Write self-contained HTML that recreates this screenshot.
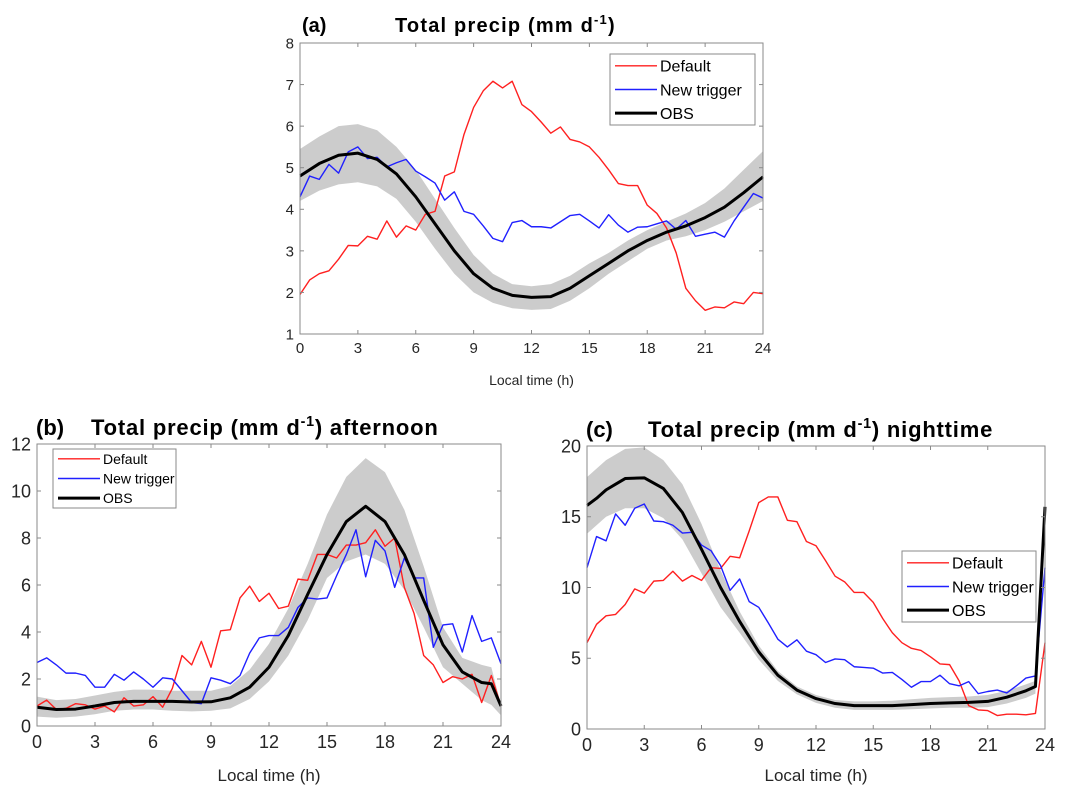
<!DOCTYPE html>
<html><head><meta charset="utf-8"><style>
body{margin:0;background:#fff;width:1074px;height:800px;overflow:hidden}
svg{font-family:"Liberation Sans",Arial,sans-serif}
</style></head><body>
<svg id="chart" width="1074" height="800" viewBox="0 0 1074 800"></svg>
<script>
const hh = [];
for (let i = 0; i <= 48; i++) hh.push(i / 2);
// Panel a
const aDefault = [1.95,2.3,2.45,2.52,2.8,3.13,3.12,3.35,3.28,3.72,3.33,3.6,3.5,3.88,3.95,4.8,4.9,5.8,6.45,6.85,7.08,6.92,7.08,6.52,6.35,6.1,5.83,5.98,5.68,5.62,5.5,5.25,4.95,4.62,4.57,4.57,4.1,3.9,3.55,2.95,2.1,1.8,1.57,1.65,1.63,1.77,1.73,2.0,1.97];
const aNew = [4.3,4.8,4.72,5.08,4.87,5.38,5.5,5.22,5.25,5.02,5.12,5.2,4.92,4.78,4.63,4.22,4.42,3.95,3.88,3.6,3.3,3.22,3.68,3.73,3.58,3.58,3.55,3.7,3.85,3.88,3.72,3.55,3.87,3.62,3.45,3.57,3.58,3.65,3.72,3.52,3.73,3.35,3.4,3.45,3.33,3.72,4.05,4.38,4.27];
const aObsX = [0,1,2,3,4,5,6,7,8,9,10,11,12,13,14,15,16,17,18,19,20,21,22,23,24];
const aObs = [4.8,5.1,5.3,5.35,5.2,4.85,4.3,3.65,3.0,2.45,2.1,1.93,1.88,1.9,2.1,2.4,2.7,3.0,3.25,3.45,3.6,3.8,4.05,4.4,4.78];
const aUp = [5.45,5.75,6.0,6.05,5.9,5.5,4.95,4.25,3.55,2.9,2.45,2.2,2.15,2.2,2.4,2.7,2.95,3.25,3.5,3.7,3.9,4.15,4.5,4.95,5.4];
const aLo = [4.2,4.45,4.6,4.65,4.55,4.25,3.7,3.05,2.45,2.0,1.75,1.62,1.58,1.6,1.8,2.1,2.45,2.75,3.05,3.25,3.35,3.5,3.7,3.95,4.2];
const aYTicks = [1,2,3,4,5,6,7,8];
// Panel b
const bDefault = [0.85,1.1,0.7,0.75,0.95,0.9,0.72,0.85,0.6,1.2,0.85,0.9,1.25,0.8,1.6,3.0,2.6,3.6,2.5,4.05,4.1,5.45,5.95,5.3,5.65,5.0,5.1,6.25,6.2,7.3,7.3,7.15,7.7,7.7,7.8,8.35,7.65,8.0,5.9,4.8,3.0,2.6,1.85,2.1,2.0,2.2,1.0,2.15,0.85];
const bNew = [2.7,2.9,2.6,2.25,2.25,2.15,1.65,1.65,2.2,1.95,2.3,2.0,1.65,2.05,2.0,1.5,1.0,0.95,2.05,1.95,1.8,2.15,3.1,3.75,3.85,3.85,4.2,5.05,5.45,5.4,5.45,6.4,7.3,8.35,6.35,7.9,7.45,5.9,7.15,6.3,6.3,3.35,4.3,4.35,3.15,4.7,3.6,3.75,2.65];
const bObsX = [0,1,2,3,4,5,6,7,8,9,10,11,12,13,14,15,16,17,18,19,20,21,22,23,23.5,24];
const bObs = [0.8,0.7,0.72,0.85,1.0,1.05,1.05,1.05,1.02,1.03,1.2,1.65,2.5,3.85,5.6,7.3,8.7,9.35,8.7,7.3,5.35,3.45,2.3,1.85,1.8,0.85];
const bUp = [1.25,1.1,1.15,1.3,1.45,1.55,1.55,1.5,1.5,1.5,1.7,2.4,3.5,5.0,6.9,9.0,10.6,11.4,10.8,9.2,6.8,4.2,2.9,2.6,2.5,0.9];
const bLo = [0.4,0.35,0.4,0.5,0.65,0.7,0.7,0.65,0.62,0.65,0.75,1.15,1.9,3.0,4.5,6.3,7.0,7.3,6.9,5.8,4.2,2.5,1.8,1.1,0.9,0.45];
const bYTicks = [0,2,4,6,8,10,12];
// Panel c
const cDefault = [6.1,7.4,8.0,8.1,8.8,9.9,9.6,10.45,10.5,11.15,10.45,10.85,10.5,11.4,11.35,12.2,12.1,14.0,16.0,16.4,16.4,14.75,14.65,13.25,12.95,11.9,10.8,10.4,9.65,9.65,8.95,7.8,6.8,6.1,5.7,5.55,5.1,4.6,4.55,3.4,1.65,1.35,1.3,0.95,1.05,1.05,1.0,1.1,6.1];
const cNew = [11.4,13.6,13.3,15.2,14.4,15.6,15.9,14.7,14.65,14.4,13.85,13.9,13.0,12.6,11.55,9.8,10.6,9.0,8.6,7.5,6.35,5.8,6.3,5.5,5.25,4.7,4.95,4.9,4.4,4.35,4.3,3.95,4.0,3.5,2.95,3.35,3.35,3.8,3.2,3.05,3.35,2.5,2.65,2.75,2.55,3.05,3.6,3.75,11.4];
const cObsX = [0,0.5,1,1.5,2,3,4,5,6,7,8,9,10,11,12,13,14,15,16,17,18,19,20,21,22,23,23.5,24];
const cObs = [15.8,16.3,16.9,17.3,17.7,17.75,17.0,15.3,12.7,10.0,7.6,5.45,3.8,2.75,2.15,1.8,1.65,1.65,1.65,1.72,1.8,1.85,1.88,1.95,2.25,2.7,3.0,15.7];
const cBandX = [0,1,2,3,4,5,6,7,8,9,10,11,12,13,14,15,16,17,18,19,20,21,22,23,23.5];
const cUp = [17.8,19.0,19.8,19.9,19.0,17.3,14.5,11.2,8.3,5.9,4.1,3.0,2.4,2.05,1.95,1.95,2.0,2.1,2.2,2.25,2.3,2.4,2.7,3.15,3.4];
const cLo = [13.8,15.0,15.6,15.6,14.9,13.4,11.0,8.6,6.8,4.9,3.4,2.45,1.85,1.5,1.35,1.35,1.35,1.4,1.45,1.5,1.5,1.55,1.8,2.2,2.5];
const cYTicks = [0,5,10,15,20];
const xTicks = [0,3,6,9,12,15,18,21,24];
const legendLabels = ["Default","New trigger","OBS"];

const NS = "http://www.w3.org/2000/svg";
const svg = document.getElementById("chart");
function mk(tag, attrs, parent, text) {
  const e = document.createElementNS(NS, tag);
  for (const k in attrs) e.setAttribute(k, attrs[k]);
  if (text !== undefined) e.textContent = text;
  (parent || svg).appendChild(e);
  return e;
}

function panel(p) {
  const g = mk("g", {});
  
  
  const sx = v => p.x0 + (v - 0) / 24 * (p.x1 - p.x0);
  const sy = v => p.y1 - (v - p.ymin) / (p.ymax - p.ymin) * (p.y1 - p.y0);
  let d = "";
  p.bandX.forEach((x, i) => { d += (i ? "L" : "M") + sx(x) + "," + sy(p.up[i]); });
  for (let i = p.bandX.length - 1; i >= 0; i--) d += "L" + sx(p.bandX[i]) + "," + sy(p.lo[i]);
  const band = mk("path", {d: d + "Z", fill: "#cccccc", stroke: "none"}, g);
  
  
  const line = (xs, ys, col, w, name) => {
    const pts = xs.map((x, i) => sx(x) + "," + sy(ys[i])).join(" ");
    const l = mk("polyline", {points: pts, fill: "none", stroke: col, "stroke-width": w, "stroke-linejoin": "round"}, g);
    
    
  };
  line(hh, p.def, "#ff2020", 1.4, 'default-line');
  line(hh, p.nw, "#2020ff", 1.4, 'new-trigger-line');
  line(p.obsX, p.obs, "#000", 3, 'obs-line');
  const box = mk("rect", {x: p.x0, y: p.y0, width: p.x1 - p.x0, height: p.y1 - p.y0, fill: "none", stroke: "#8a8a8a", "stroke-width": 1}, g);
  
  
  const tl = 4;
  xTicks.forEach(t => {
    const x = sx(t);
    mk("line", {x1: x, x2: x, y1: p.y1, y2: p.y1 - tl, stroke: "#8a8a8a"}, g);
    mk("line", {x1: x, x2: x, y1: p.y0, y2: p.y0 + tl, stroke: "#8a8a8a"}, g);
    const lab = mk("text", {x: x, y: p.y1 + p.tfs + 4, "font-size": p.tfs, fill: "#262626", "text-anchor": "middle"}, g, t);
    
    
  });
  p.yt.forEach(t => {
    const y = sy(t);
    mk("line", {x1: p.x0, x2: p.x0 + tl, y1: y, y2: y, stroke: "#8a8a8a"}, g);
    mk("line", {x1: p.x1, x2: p.x1 - tl, y1: y, y2: y, stroke: "#8a8a8a"}, g);
    const lab = mk("text", {x: p.x0 - 6, y: y + p.tfs * 0.36, "font-size": p.tfs, fill: "#262626", "text-anchor": "end"}, g, t);
    
    
  });
  const xl = mk("text", {x: (p.x0 + p.x1) / 2, y: p.xly, "font-size": p.xlfs, fill: "#262626", "text-anchor": "middle"}, g, "Local time (h)");
  
  
  const pl = mk("text", {x: p.plx, y: p.ty, "font-size": p.tifs, "font-weight": "bold", fill: "#000"}, g, "(" + p.id + ")");
  
  
  const ti = mk("text", {x: p.tx, y: p.ty, "font-size": p.tifs, "font-weight": "bold", fill: "#000", "letter-spacing": p.ls}, g);
  
  
  mk("tspan", {}, ti, "Total precip (mm d");
  mk("tspan", {dy: -p.tifs * 0.4, "font-size": p.tifs * 0.65}, ti, "-1");
  mk("tspan", {dy: p.tifs * 0.4}, ti, ")" + p.suffix);
  const L = p.leg;
  const lg = mk("g", {}, g);
  
  
  mk("rect", {x: L.x, y: L.y, width: L.w, height: L.h, fill: "#fff", stroke: "#8a8a8a"}, lg);
  const cols = ["#ff2020", "#2020ff", "#000"], ws = [1.4, 1.4, 3];
  legendLabels.forEach((name, i) => {
    const yy = L.y + L.h * (i + 0.5) / 3;
    mk("line", {x1: L.x + 5, x2: L.x + 5 + L.ll, y1: yy, y2: yy, stroke: cols[i], "stroke-width": ws[i]}, lg);
    const t = mk("text", {x: L.x + 8 + L.ll, y: yy + L.fs * 0.36, "font-size": L.fs, fill: "#000"}, lg, name);
    
    
  });
}

panel({id: "a", x0: 300, x1: 763, y0: 43, y1: 334, ymin: 1, ymax: 8, yt: aYTicks,
  def: aDefault, nw: aNew, obsX: aObsX, obs: aObs, bandX: aObsX, up: aUp, lo: aLo,
  tfs: 15, xlfs: 14, xly: 385, tifs: 20, ls: 1.2, plx: 302, tx: 395, ty: 32, suffix: "",
  leg: {x: 610, y: 54, w: 145, h: 71, ll: 42, fs: 16}});
panel({id: "b", x0: 37, x1: 501, y0: 444, y1: 726, ymin: 0, ymax: 12, yt: bYTicks,
  def: bDefault, nw: bNew, obsX: bObsX, obs: bObs, bandX: bObsX, up: bUp, lo: bLo,
  tfs: 18, xlfs: 17, xly: 781, tifs: 22, ls: 0.8, plx: 36, tx: 91, ty: 435, suffix: " afternoon",
  leg: {x: 53, y: 449, w: 123, h: 59, ll: 42, fs: 14}});
panel({id: "c", x0: 587, x1: 1045, y0: 446, y1: 729, ymin: 0, ymax: 20, yt: cYTicks,
  def: cDefault, nw: cNew, obsX: cObsX, obs: cObs, bandX: cBandX, up: cUp, lo: cLo,
  tfs: 18, xlfs: 17, xly: 781, tifs: 22, ls: 0.8, plx: 586, tx: 648, ty: 437, suffix: " nighttime",
  leg: {x: 902, y: 551, w: 134, h: 71, ll: 42, fs: 16}});
</script>
</body></html>
